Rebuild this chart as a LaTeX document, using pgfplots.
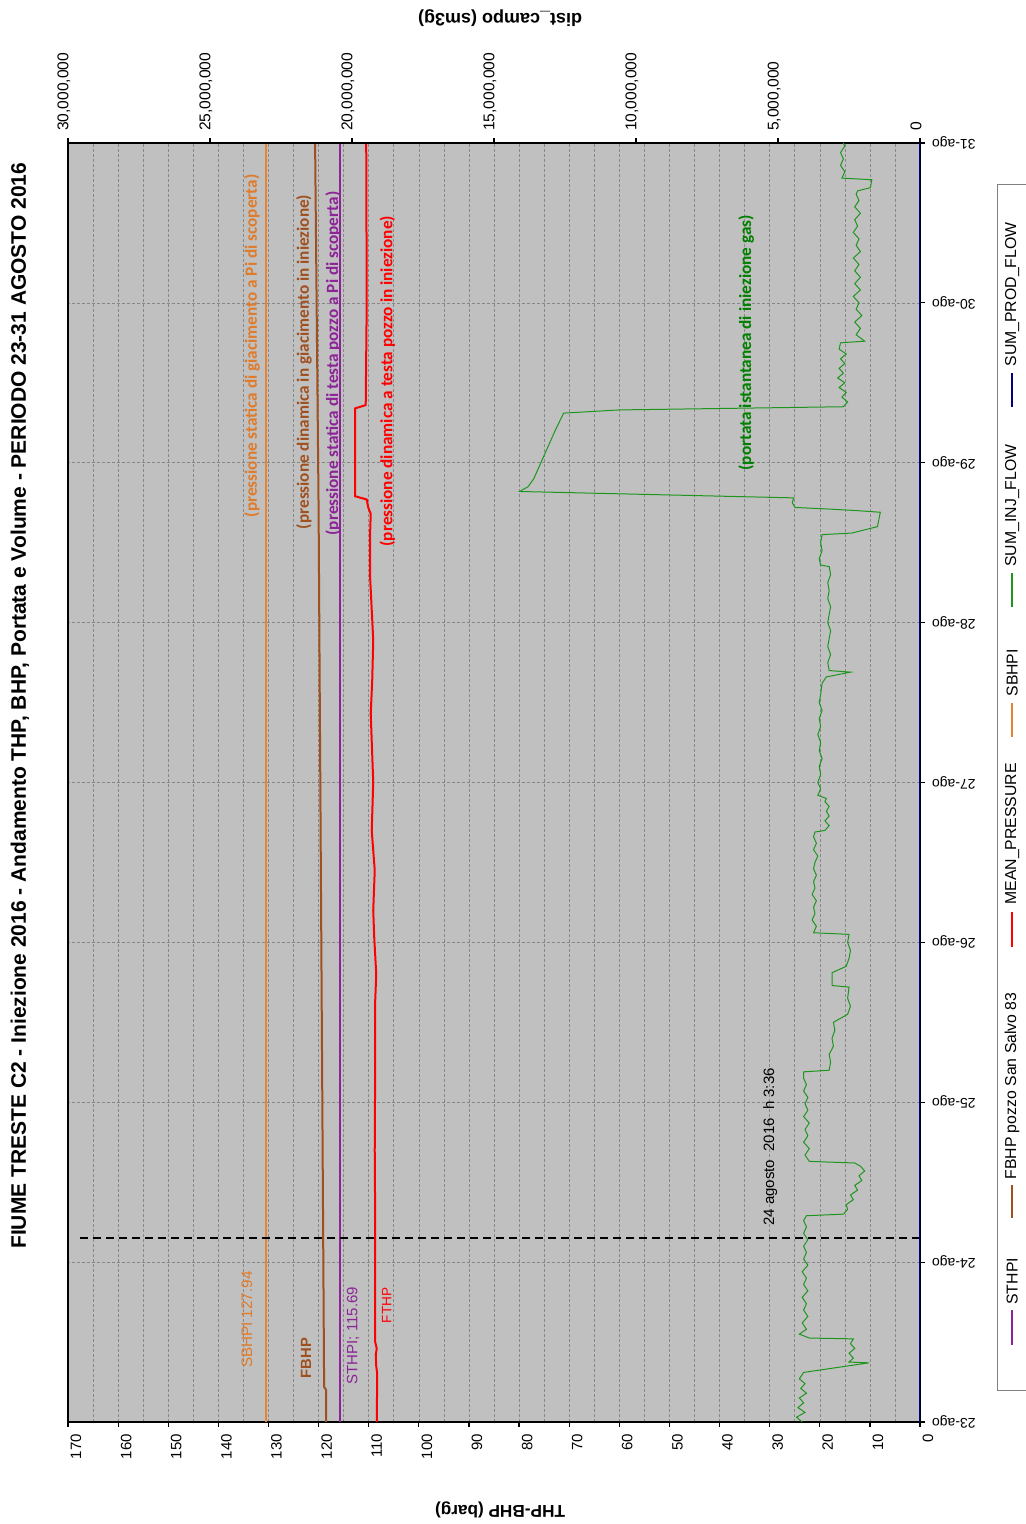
\documentclass[border=0pt]{standalone}
\usepackage{pgfplots}
\pgfplotsset{compat=1.18}
\usepackage{fontspec}
\setmainfont{Liberation Sans}
\newfontfamily\calibri{Carlito}
\newcommand\fs[1]{\fontsize{#1}{#1}\selectfont}
\definecolor{bggray}{RGB}{192,192,192}
\definecolor{sorange}{RGB}{235,130,45}
\definecolor{fbrown}{RGB}{160,80,30}
\definecolor{spurple}{RGB}{140,35,150}
\definecolor{ggreen}{RGB}{30,150,30}
\definecolor{tgreen}{RGB}{0,128,0}
\definecolor{navyb}{RGB}{0,0,128}
\definecolor{gridc}{RGB}{135,135,135}
\begin{document}
\begin{tikzpicture}
\begin{axis}[
  scale only axis, width=426pt, height=639.5pt,
  x dir=reverse, clip=false,
  xmin=0, xmax=170, ymin=23, ymax=31,
  axis background/.style={fill=bggray},
  axis line style={black, line width=1pt},
  ytick={23,24,...,31},
  yticklabels={23-ago,24-ago,25-ago,26-ago,27-ago,28-ago,29-ago,30-ago,31-ago},
  yticklabel style={rotate=180, anchor=east, font=\fs{7}},
  xtick={0,10,...,170},
  minor xtick={5,15,...,165},
  xticklabel style={rotate=90, anchor=east, font=\fs{7.5}, yshift=-4pt},
  xtick pos=left, ytick pos=right,
  tick align=outside,
  major tick length=2.5pt, minor tick length=0pt,
  tick style={black, line width=0.6pt},
  grid=both,
  major grid style={draw=gridc, dash pattern=on 1.5pt off 1pt, line width=0.3pt},
  minor grid style={draw=gridc, dash pattern=on 1.5pt off 1pt, line width=0.3pt},
  /pgf/number format/assume math mode=true,
]
% SBHPI
\addplot[sorange, line width=1pt, forget plot] coordinates {(130.5,23) (130.5,31)};
% FBHP
\addplot[fbrown, line width=1pt, forget plot] coordinates {(118.5,23) (118.5,23.2) (118.9,23.22) (120.0,28.7) (120.7,31)};
% STHPI
\addplot[spurple, line width=1pt, forget plot] coordinates {(115.69,23) (115.69,31)};
% MEAN_PRESSURE (FTHP)
\addplot[red, line width=1pt, forget plot] coordinates {
(108.4,23.00) (108.3,23.30) (108.5,23.35) (108.6,23.42) (108.4,23.46) (108.7,23.50) (108.7,24.20) (108.8,24.70)
(108.7,25.30) (108.7,25.64) (108.5,25.80) (108.9,26.03) (109.1,26.20) (108.8,26.45)
(109.4,26.70) (109.1,27.00) (109.6,27.43) (109.3,27.64) (109.1,27.89) (109.7,28.27)
(109.7,28.58) (109.6,28.68) (110.1,28.72) (110.4,28.77) (112.7,28.79) (112.7,29.34)
(110.6,29.36) (110.4,30.00) (110.5,31.00)};
% marker line
\addplot[black, dash pattern=on 4pt off 2.5pt, line width=1.1pt, forget plot] coordinates {(0,24.15) (168.5,24.15)};
% annotations
\node[rotate=90, font=\calibri\bfseries\fs{8.6}, text=sorange!95!black] at (axis cs:133.3,29.73) {(pressione statica di giacimento a Pi di scoperta)};
\node[rotate=90, font=\calibri\bfseries\fs{8.6}, text=fbrown] at (axis cs:122.9,29.63) {(pressione dinamica in giacimento in iniezione)};
\node[rotate=90, font=\calibri\bfseries\fs{8.6}, text=spurple] at (axis cs:117.1,29.62) {(pressione statica di testa pozzo a Pi di scoperta)};
\node[rotate=90, font=\calibri\bfseries\fs{8.6}, text=red] at (axis cs:106.3,29.51) {(pressione dinamica a testa pozzo in iniezione)};
\node[rotate=90, font=\calibri\bfseries\fs{8.6}, text=tgreen] at (axis cs:34.7,29.75) {(portata istantanea di iniezione gas)};
\node[rotate=90, font=\fs{7.6}, text=sorange!95!black] at (axis cs:134.3,23.64) {SBHPI 127.94};
\node[rotate=90, font=\bfseries\fs{7.4}, text=fbrown] at (axis cs:122.5,23.40) {FBHP};
\node[rotate=90, font=\fs{7.5}, text=spurple] at (axis cs:113.1,23.54) {STHPI; 115.69};
\node[rotate=90, font=\fs{6.8}, text=red] at (axis cs:106.4,23.73) {FTHP};
\node[rotate=90, font=\fs{7.5}, text=black] at (axis cs:29.9,24.72) {24 agosto\ \ 2016\ \ h 3:36};
% legend (below the chart, turned with it)
\draw[gray, line width=0.5pt] (axis cs:-15.36,23.2) rectangle (axis cs:-21.95,30.737);
\addplot[spurple, line width=1pt, forget plot] coordinates {(-18.36,23.4816) (-18.36,23.7005)};
\addplot[fbrown, line width=1pt, forget plot] coordinates {(-18.36,24.276) (-18.36,24.4824)};
\addplot[red, line width=1pt, forget plot] coordinates {(-18.36,25.971) (-18.36,26.190)};
\addplot[sorange, line width=1pt, forget plot] coordinates {(-18.36,27.285) (-18.36,27.497)};
\addplot[ggreen, line width=0.6pt, forget plot] coordinates {(-18.36,28.098) (-18.36,28.310)};
\addplot[navyb, line width=1pt, forget plot] coordinates {(-18.36,29.349) (-18.36,29.561)};
\node[rotate=90, anchor=west, inner sep=0pt, font=\fs{7.9}] at (axis cs:-18.36,23.732) {STHPI};
\node[rotate=90, anchor=west, inner sep=0pt, font=\fs{7.9}] at (axis cs:-18.36,24.514) {FBHP pozzo San Salvo 83};
\node[rotate=90, anchor=west, inner sep=0pt, font=\fs{7.9}] at (axis cs:-18.36,26.234) {MEAN\_PRESSURE};
\node[rotate=90, anchor=west, inner sep=0pt, font=\fs{7.9}] at (axis cs:-18.36,27.535) {SBHPI};
\node[rotate=90, anchor=west, inner sep=0pt, font=\fs{7.9}] at (axis cs:-18.36,28.348) {SUM\_INJ\_FLOW};
\node[rotate=90, anchor=west, inner sep=0pt, font=\fs{7.9}] at (axis cs:-18.36,29.599) {SUM\_PROD\_FLOW};
\coordinate (ttl) at (axis cs:179.6,27.48);
\coordinate (yl) at (axis cs:83.8,22.45);
\coordinate (yr) at (axis cs:83.8,31.78);
\coordinate (bbA) at (axis cs:183.57,22.362);
\coordinate (bbB) at (axis cs:-20.95,31.894);
\end{axis}
\begin{axis}[
  scale only axis, width=426pt, height=639.5pt,
  x dir=reverse,
  xmin=0, xmax=30, ymin=23, ymax=31,
  axis x line*=top, axis y line=none,
  xtick={0,5,10,15,20,25,30},
  xticklabels={0,{5,000,000},{10,000,000},{15,000,000},{20,000,000},{25,000,000},{30,000,000}},
  xticklabel style={rotate=90, anchor=west, font=\fs{7.8}, yshift=2pt},
  tick align=outside, major tick length=2.5pt,
  tick style={black, line width=0.6pt},
  axis line style={black, line width=0.6pt},
]
% SUM_INJ_FLOW (millions sm3g)
\addplot[ggreen, line width=0.5pt, forget plot] coordinates {
(4.15,23.00) (4.35,23.03) (4.05,23.06) (4.30,23.09) (4.10,23.12) (4.25,23.15) (4.00,23.18) (4.20,23.21)
(4.05,23.24) (4.25,23.27) (4.10,23.31) (1.80,23.37) (2.50,23.375) (2.35,23.40) (2.50,23.43) (2.30,23.46)
(2.45,23.49) (2.35,23.52) (3.90,23.525) (4.25,23.55) (4.00,23.58) (4.15,23.62) (3.95,23.66) (4.10,23.70)
(4.00,23.74) (4.15,23.78) (3.95,23.82) (4.10,23.86) (4.00,23.90) (4.15,23.94) (3.95,23.98) (4.10,24.02)
(4.00,24.06) (4.10,24.10) (3.95,24.14) (4.10,24.18) (4.00,24.22) (4.10,24.26) (4.00,24.29) (2.70,24.30)
(2.55,24.33) (2.60,24.36) (2.35,24.39) (2.45,24.42) (2.20,24.45) (2.30,24.48) (2.05,24.51) (2.15,24.54)
(1.95,24.57) (2.10,24.60) (2.30,24.62) (3.90,24.63) (4.05,24.67) (3.90,24.71) (4.10,24.75) (3.95,24.79)
(4.05,24.83) (3.90,24.87) (4.10,24.91) (3.95,24.95) (4.05,24.99) (3.95,25.03) (4.10,25.07) (4.00,25.11)
(4.10,25.15) (4.10,25.19) (3.20,25.20) (3.15,25.25) (3.20,25.30) (3.05,25.35) (3.10,25.40) (3.00,25.45)
(3.05,25.50) (2.55,25.55) (2.45,25.60) (2.55,25.65) (2.50,25.72) (3.10,25.73) (3.10,25.81) (2.60,25.85)
(2.50,25.90) (2.45,25.95) (2.55,26.00) (2.50,26.05) (3.75,26.06) (3.65,26.10) (3.80,26.14) (3.70,26.18)
(3.75,26.22) (3.65,26.26) (3.80,26.30) (3.70,26.34) (3.75,26.38) (3.65,26.42) (3.75,26.46) (3.70,26.50)
(3.60,26.54) (3.75,26.58) (3.65,26.62) (3.75,26.66) (3.70,26.69) (3.35,26.70) (3.20,26.73) (3.35,26.76)
(3.20,26.79) (3.30,26.82) (3.20,26.85) (3.35,26.88) (3.30,26.90) (3.60,26.92) (3.50,26.96) (3.60,27.00)
(3.50,27.05) (3.55,27.10) (3.45,27.15) (3.55,27.20) (3.50,27.25) (3.60,27.30) (3.50,27.35) (3.55,27.40)
(3.45,27.45) (3.55,27.50) (3.50,27.55) (3.45,27.62) (3.30,27.66) (2.45,27.69) (3.20,27.70) (3.25,27.75)
(3.15,27.80) (3.25,27.85) (3.20,27.90) (3.15,27.95) (3.25,28.00) (3.20,28.05) (3.15,28.10) (3.25,28.15)
(3.20,28.20) (3.25,28.25) (3.15,28.30) (3.20,28.35) (3.50,28.36) (3.55,28.40) (3.45,28.45) (3.50,28.50)
(3.45,28.55) (2.40,28.56) (1.50,28.60) (1.40,28.69) (2.20,28.70) (3.20,28.71) (4.40,28.72) (4.50,28.75)
(4.45,28.78) (14.10,28.82) (13.80,28.85) (13.60,28.90) (13.35,29.00) (13.10,29.10) (12.85,29.20) (12.55,29.31)
(10.60,29.33) (2.70,29.35) (2.55,29.38) (2.75,29.41) (2.60,29.44) (2.85,29.47) (2.65,29.50) (2.90,29.53)
(2.70,29.56) (2.85,29.59) (2.65,29.62) (2.80,29.65) (2.60,29.68) (2.85,29.71) (2.80,29.75) (1.95,29.76)
(2.25,29.80) (2.10,29.84) (2.30,29.88) (2.05,29.92) (2.25,29.96) (2.15,30.00) (2.35,30.04) (2.10,30.08)
(2.30,30.12) (2.10,30.16) (2.30,30.20) (2.15,30.24) (2.35,30.28) (2.10,30.32) (2.25,30.36) (2.15,30.40)
(2.35,30.44) (2.20,30.48) (2.30,30.52) (2.10,30.56) (2.30,30.60) (2.15,30.64) (2.25,30.68) (2.20,30.70)
(1.75,30.72) (1.70,30.77) (2.75,30.78) (2.65,30.82) (2.80,30.86) (2.70,30.90) (2.80,30.94) (2.65,30.98)
(2.70,31.00)};
% SUM_PROD_FLOW
\addplot[navyb, line width=1.5pt, forget plot] coordinates {(0,23) (0,31)};
\end{axis}
\node[rotate=90, font=\bfseries\fs{10.5}] at (ttl) {FIUME TRESTE C2 - Iniezione 2016 - Andamento THP, BHP, Portata e Volume - PERIODO 23-31 AGOSTO 2016};
\node[font=\bfseries\fs{8.6}, rotate=180] at (yl) {THP-BHP (barg)};
\node[font=\bfseries\fs{9}, rotate=180] at (yr) {dist\_campo (sm3g)};
\pgfresetboundingbox
\path[use as bounding box] (bbA) rectangle (bbB);
\end{tikzpicture}
\end{document}
